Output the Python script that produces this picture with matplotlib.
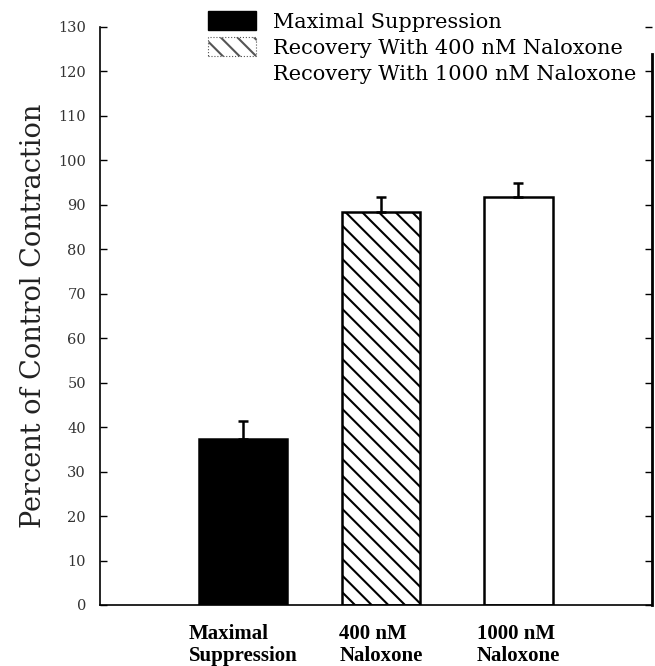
import matplotlib
matplotlib.use("Agg")
import matplotlib.pyplot as plt
from matplotlib.patches import Patch

categories = ["Maximal\nSuppression", "400 nM\nNaloxone", "1000 nM\nNaloxone"]
legend_labels = ["Maximal Suppression", "Recovery With 400 nM Naloxone",
                 "Recovery With 1000 nM Naloxone"]
values = [37.3, 88.3, 91.8]
errors = [4.0, 3.4, 3.1]
yticks = list(range(0, 131, 10))

plt.rcParams['hatch.linewidth'] = 1.5

fig = plt.figure(figsize=(6.55, 6.66), dpi=100)
ax = fig.add_axes([100/655, 1-605/666, 552/655, 578/666])

x = list(range(len(categories)))
widths = [0.64, 0.57, 0.50]
faces = ['black', 'white', 'white']
hatches = [None, '\\\\', None]
for xi, v, e, w, fc, h in zip(x, values, errors, widths, faces, hatches):
    ax.bar(xi, v, width=w, color=fc, edgecolor='black', linewidth=1.8, hatch=h, zorder=2)
    ax.errorbar(xi, v, yerr=[[0], [e]], fmt='none', ecolor='black',
                elinewidth=1.8, capsize=3.5, capthick=1.8, zorder=3)

ax.set_xlim(-1.04, 2.97)
ax.set_ylim(0, 130)
ax.set_yticks(yticks)
ax.set_yticklabels([str(t) for t in yticks], fontsize=10.5, family='DejaVu Serif', color='#333333')
ax.set_xticks(x)
ax.set_xticklabels(categories, fontsize=15, family='Liberation Serif', fontweight='bold',
                   multialignment='left', linespacing=1.1)
ax.tick_params(axis='x', length=0, pad=14)
ax.tick_params(axis='y', direction='in', length=5, width=1, pad=10, right=True)
ax.spines['top'].set_visible(False)
ax.spines['right'].set_bounds(0, 124)
for s in ['left', 'bottom', 'right']:
    ax.spines[s].set_linewidth(1.2)
ax.spines['right'].set_linewidth(2)

ax.set_ylabel("Percent of Control Contraction", fontsize=19.5, family='DejaVu Serif',
              labelpad=8, color='#222222')

handles = [Patch(facecolor='black', edgecolor='black'),
           Patch(facecolor='white', edgecolor='#555555', hatch='\\\\', linestyle=':', linewidth=0.8),
           Patch(facecolor='white', edgecolor='none')]
fig.legend(handles, legend_labels, loc='upper left', bbox_to_anchor=(208/655, 1-11/666),
           frameon=False, borderpad=0, borderaxespad=0, handlelength=2.3,
           handleheight=1.05, handletextpad=0.8, labelspacing=0.25,
           prop={'family': 'DejaVu Serif', 'size': 15})

fig.savefig("out.png", dpi=100)
